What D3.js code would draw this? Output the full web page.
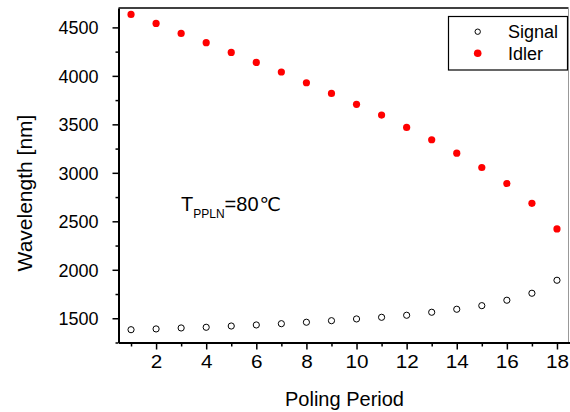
<!DOCTYPE html>
<html>
<head>
<meta charset="utf-8">
<script src="https://cdn.jsdelivr.net/npm/d3@7"></script>
<style>
  html, body { margin: 0; padding: 0; background: #fff; }
  svg { display: block; }
  text { font-family: "Liberation Sans", Arial, "DejaVu Sans", sans-serif; fill: #000; }
</style>
</head>
<body>
<svg id="chart" width="570" height="412"></svg>
<script>
// Poling period index and the measured OPO output wavelengths (nm)
const periods = [1, 2, 3, 4, 5, 6, 7, 8, 9, 10, 11, 12, 13, 14, 15, 16, 17, 18];
const signalNm = [1382, 1390, 1400, 1407, 1420, 1431, 1444, 1459, 1475, 1493, 1510, 1531, 1562, 1593, 1630, 1686, 1758, 1892];
const idlerNm = [4634, 4541, 4438, 4342, 4242, 4139, 4040, 3929, 3819, 3706, 3596, 3468, 3341, 3203, 3055, 2890, 2685, 2421];

const xMajorTicks = [2, 4, 6, 8, 10, 12, 14, 16, 18];
const xMinorTicks = [1, 3, 5, 7, 9, 11, 13, 15, 17];
const yMajorTicks = [1500, 2000, 2500, 3000, 3500, 4000, 4500];
const yMinorTicks = [1250, 1750, 2250, 2750, 3250, 3750, 4250];

const svg = d3.select("#chart");
const L = 118.5, R = 569.5, T = 8, B = 342.5;

const x = d3.scaleLinear().domain([0.5, 18.5]).range([L, R]);
const y = d3.scaleLinear().domain([1250, 4700]).range([B, T]);

// frame: top and right borders
svg.append("line").attr("x1", L).attr("x2", 568.5).attr("y1", T).attr("y2", T)
  .attr("stroke", "#000").attr("stroke-width", 1.5);
svg.append("line").attr("x1", 568.5).attr("x2", 568.5).attr("y1", T).attr("y2", B)
  .attr("stroke", "#999").attr("stroke-width", 1);

// bottom axis
const xAxis = svg.append("g").attr("transform", `translate(0,${B})`)
  .call(d3.axisBottom(x).tickValues(xMajorTicks).tickFormat(d3.format("d"))
    .tickSize(7).tickPadding(6).tickSizeOuter(0));
svg.append("g").attr("transform", `translate(0,${B})`)
  .call(d3.axisBottom(x).tickValues(xMinorTicks).tickSize(4).tickFormat("").tickSizeOuter(0))
  .call(g => g.select(".domain").remove());

// left axis
const yAxis = svg.append("g").attr("transform", `translate(${L},0)`)
  .call(d3.axisLeft(y).tickValues(yMajorTicks).tickFormat(d3.format("d"))
    .tickSize(6).tickPadding(14).tickSizeOuter(0));
svg.append("g").attr("transform", `translate(${L},0)`)
  .call(d3.axisLeft(y).tickValues(yMinorTicks).tickSize(3).tickFormat("").tickSizeOuter(0))
  .call(g => g.select(".domain").remove());

svg.selectAll(".tick line").attr("stroke", "#000").attr("stroke-width", 1.5);
svg.selectAll(".domain").attr("stroke", "#000").attr("stroke-width", 2);
// x tick numerals are set slightly wide
xAxis.selectAll("text").attr("font-size", 18).attr("transform", "scale(1.15,1)");
yAxis.selectAll("text").attr("font-size", 18).attr("dy", "0.36em");

// idler: filled red dots
svg.append("g").selectAll("circle").data(periods).join("circle")
  .attr("cx", (d) => x(d)).attr("cy", (d, i) => y(idlerNm[i])).attr("r", 3.6)
  .attr("fill", "#ff0000");

// signal: open black circles
svg.append("g").selectAll("circle").data(periods).join("circle")
  .attr("cx", (d) => x(d)).attr("cy", (d, i) => y(signalNm[i])).attr("r", 3.1)
  .attr("fill", "none").attr("stroke", "#000").attr("stroke-width", 1);

// axis titles
svg.append("text").attr("x", 344.5).attr("y", 406).attr("text-anchor", "middle")
  .attr("font-size", 20).text("Poling Period");
svg.append("text").attr("transform", "translate(32,193) rotate(-90)")
  .attr("text-anchor", "middle").attr("font-size", 21).text("Wavelength [nm]");

// temperature annotation
const ann = svg.append("text").attr("x", 181).attr("y", 211).attr("font-size", 20);
ann.append("tspan").text("T");
ann.append("tspan").attr("font-size", 12).attr("dy", 7).text("PPLN");
ann.append("tspan").attr("dy", -7).text("=80");
ann.append("tspan").attr("font-family", "DejaVu Sans, sans-serif").attr("font-size", 19).attr("dx", 1).text("℃");

// legend
const lg = svg.append("g");
lg.append("rect").attr("x", 448.5).attr("y", 16.5).attr("width", 119).attr("height", 53.5)
  .attr("fill", "#fff").attr("stroke", "#000").attr("stroke-width", 1.2);
lg.append("circle").attr("cx", 477.7).attr("cy", 31.7).attr("r", 2.7)
  .attr("fill", "none").attr("stroke", "#000").attr("stroke-width", 1);
lg.append("circle").attr("cx", 477.7).attr("cy", 53.3).attr("r", 3.8).attr("fill", "#ff0000");
lg.append("text").attr("x", 508).attr("y", 37.5).attr("font-size", 18).text("Signal");
lg.append("text").attr("x", 508).attr("y", 60).attr("font-size", 18).text("Idler");
</script>
</body>
</html>
